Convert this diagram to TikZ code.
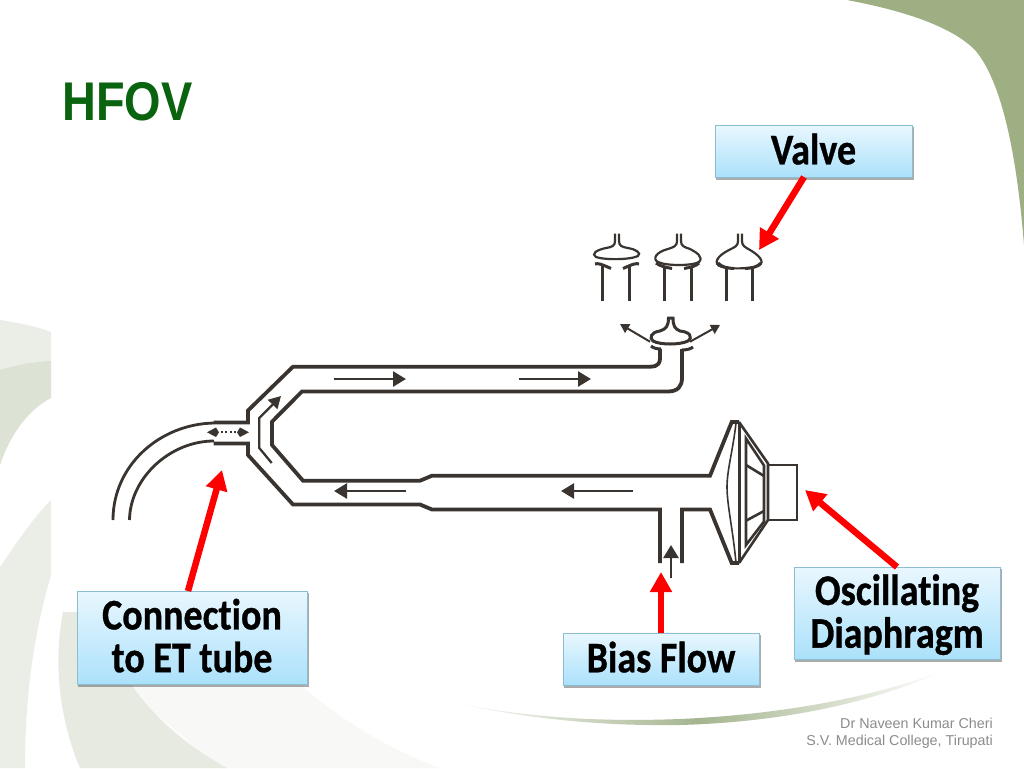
\documentclass[tikz,border=0pt]{standalone}
\usepackage{fontspec}
\usepackage{graphicx}
\newfontfamily\labelfont[BoldFeatures={FakeBold=0.8,RawFeature={-liga}},RawFeature={-liga}]{Carlito}
\newfontfamily\footfont{Liberation Sans}
\setmainfont{Liberation Sans}
\usetikzlibrary{arrows.meta}
\definecolor{pipe}{HTML}{3A3430}
\definecolor{bgdark}{HTML}{9EAF83}
\definecolor{bglight}{HTML}{EBEEE6}
\definecolor{bgmid}{HTML}{DCE3D5}
\definecolor{bgpale}{HTML}{E6EAE1}
\definecolor{bgfaint}{HTML}{F8F9F7}
\definecolor{swoosh}{HTML}{A5B58F}
\definecolor{titlegreen}{HTML}{0A640F}
\definecolor{labelbot}{HTML}{ABE1FB}
\definecolor{labeltop}{HTML}{E9F7FE}
\definecolor{labelline}{HTML}{8DBDD0}
\tikzset{
 wall/.style={draw=pipe,line width=3.8pt,line join=miter},
 thin wall/.style={draw=pipe,line width=3pt},
 fine wall/.style={draw=pipe,line width=2.2pt},
 tube wall/.style={draw=pipe,line width=2.8pt},
 flow/.style={draw=pipe,line width=2.6pt,-{Triangle[length=13pt,width=15pt]}},
 small flow/.style={draw=pipe,line width=2pt,-{Triangle[length=9pt,width=10pt]}},
 pointer/.style={draw=red,line width=6.5pt,-{Triangle[length=20pt,width=21pt]}},
}
\newcommand{\labelbx}[6]{% name, x0, y0, x1, y1, text
 \fill[black!60,opacity=.55] (#2+1,#3+2) rectangle (#4+1.5,#5+2.5);
 \draw[draw=labelline,line width=1pt,top color=labeltop,bottom color=labelbot] (#2,#3) rectangle (#4,#5);
 \node[align=center,inner sep=0pt] (#1) at ({(#2+#4)/2},{(#3+#5)/2+4}) {\scalebox{1}[1.15]{\labelfont\bfseries\fontsize{38}{35}\selectfont\begin{tabular}{@{}c@{}}#6\end{tabular}}};
}
\begin{document}
\begin{tikzpicture}[x=1pt,y=-1pt]
\useasboundingbox (0,0) rectangle (1024,768);
\fill[white] (0,0) rectangle (1024,768);
% background
\fill[bgdark] (847,0) .. controls (900,10) and (950,25) .. (975,50) .. controls (1005,85) and (1018,170) .. (1024,245) -- (1024,0) -- cycle;
\fill[bglight] (0,320) .. controls (20,323) and (38,327) .. (51,332) -- (51,362) .. controls (30,362) and (12,366) .. (0,370) -- cycle;
\fill[bgmid] (0,370) .. controls (12,366) and (30,362) .. (51,361) -- (51,398) .. controls (28,410) and (10,435) .. (0,465) -- cycle;
\fill[bglight] (0,567) .. controls (15,545) and (33,518) .. (51,500) -- (51,575) .. controls (38,620) and (25,680) .. (25,768) -- (0,768) -- cycle;
\fill[bgfaint] (120,684) -- (300,684) .. controls (340,720) and (390,750) .. (440,768) -- (220,768) -- cycle;
\fill[bgpale] (63,612) -- (110,612) -- (133,687) .. controls (160,725) and (195,750) .. (227,768) -- (80,768) .. controls (62,725) and (52,670) .. (63,612) -- cycle;
\shade[left color=white,right color=white,middle color=swoosh] (450,702) .. controls (540,722) and (620,726) .. (680,725) .. controls (790,722) and (880,700) .. (945,670) .. controls (880,695) and (790,714) .. (680,719) .. controls (600,722) and (530,718) .. (450,702) -- cycle;
% title
\node[text=titlegreen,anchor=base west,inner sep=0pt] (title) at (62,120) {\scalebox{.86}[1]{\bfseries\fontsize{54.5}{54.5}\selectfont HFOV}};
% ET tube
\draw[tube wall] (113,520) .. controls (113,465) and (160,424) .. (214,423);
\draw[tube wall] (129.5,520) .. controls (130,478) and (170,441) .. (214,441);
% manifold
\draw[wall] (213.5,422.5) -- (248,422.5) -- (248,410.5) -- (293,366.7) -- (650,366.7) .. controls (659,366.7) and (660,362) .. (660,358) -- (660,349);
\draw[wall] (213.5,443.5) -- (248,443.5) -- (248,455) -- (293,504.5) -- (420,504.5) -- (432,509.5) -- (660,509.5) -- (660,563);
\draw[wall] (682,563) -- (682,509.5) -- (710,509.5) -- (731.7,563) -- (739,563);
\draw[wall] (682,349) -- (682,378) .. controls (682,386) and (678,391.5) .. (668,391.5) -- (302,391.5) -- (272,421.7) -- (272,445) -- (303,480.7) -- (420,480.7) -- (432,475.7) -- (710,475.7) -- (731.7,422) -- (739,422);
% flanges
\draw[thin wall] (651,346) .. controls (653,348) and (657,349) .. (661,349);
\draw[thin wall] (693,347) .. controls (691,349) and (686,350) .. (682,350);
% small valve
\draw[wall,line width=3pt,fill=white] (668.5,318) .. controls (668.5,326) and (666,329) .. (660,331) .. controls (651,332) and (649,338) .. (653,341) .. controls (660,345) and (680,345) .. (688,341) .. controls (693,337) and (690,332) .. (680,331) .. controls (675,329) and (673,326) .. (673,318) -- cycle;
\draw[small flow] (650,341.7) -- (620,324);
\draw[small flow] (690,341.7) -- (720,325);
% valve 1
\draw[fine wall] (615,233.5) -- (615,241) .. controls (615,246) and (612,247) .. (606,248) .. controls (596,250) and (591,254) .. (596,257) .. controls (604,260) and (630,260) .. (638,256) .. controls (642,253) and (635,249) .. (628,248) .. controls (622,247) and (619,246) .. (619,241) -- (619,233.5);
\draw[thin wall] (595,264) .. controls (598,263) and (601,264) .. (611,268.5);
\draw[thin wall] (639,264) .. controls (636,263) and (633,264) .. (623,268.5);
\draw[thin wall] (602.7,266) -- (602.7,300.7);
\draw[thin wall] (629.5,266) -- (629.5,300.7);
% valve 2
\draw[fine wall] (677,233.5) -- (677,241) .. controls (677,246) and (674,247) .. (668,249) .. controls (656,252) and (652,259) .. (658,262) .. controls (666,266) and (692,266) .. (699,262) .. controls (704,257) and (696,252) .. (690,249) .. controls (684,247) and (681,246) .. (681,241) -- (681,233.5);
\draw[thin wall] (656,263) .. controls (660,266) and (664,267) .. (672,268.5);
\draw[thin wall] (699,263) .. controls (696,266) and (692,267) .. (684,268.5);
\draw[thin wall] (664.5,266) -- (664.5,300.7);
\draw[thin wall] (691.2,266) -- (691.2,300.7);
% valve 3
\draw[fine wall] (738,233.5) -- (738,241) .. controls (738,246) and (735,247) .. (729,250) .. controls (717,256) and (712,264) .. (722,267) .. controls (730,269) and (750,269) .. (758,266) .. controls (767,262) and (757,254) .. (750,250) .. controls (745,247) and (742,246) .. (742,241) -- (742,233.5);
\draw[thin wall] (718,263) .. controls (722,267) and (726,268) .. (734,268.5);
\draw[thin wall] (761,263) .. controls (757,267) and (753,268) .. (745,268.5);
\draw[thin wall] (726,268) -- (726,300.7);
\draw[thin wall] (752.7,268) -- (752.7,300.7);
% diaphragm
\draw[thin wall,line width=2.6pt] (739.3,422) -- (739.3,563);
\draw[fine wall,line width=1.6pt] (736,423) .. controls (733,450) and (727,470) .. (727,487) .. controls (727,505) and (733,530) .. (736,563);
\draw[thin wall,line width=2.6pt] (739,422) -- (768,463.5) -- (768,520) -- (739,563);
\draw[thin wall,line width=2.6pt] (746,438.5) -- (764,465.5) -- (764,521.5) -- (746,545) -- cycle;
\draw[thin wall,line width=2.6pt] (746,465) -- (764,476);
\draw[thin wall,line width=2.6pt] (746,520.7) -- (764,511);
\draw[draw=pipe,line width=2pt] (768,465) -- (796.7,465) -- (796.7,520) -- (768,520);
% inner flow arrow
\draw[thin wall,line width=2.3pt,-{Triangle[length=12pt,width=13pt]}] (271.7,463) -- (259.3,448) -- (259.3,418) -- (281,396);
% exchange arrow
\draw[pipe,line width=2pt,dash pattern=on 2pt off 2.5pt] (216,432.3) -- (241,432.3);
\fill[pipe] (207,432.3) -- (216,427.5) -- (219,432.3) -- (216,437) -- cycle;
\fill[pipe] (249,432.3) -- (240,427.5) -- (237,432.3) -- (240,437) -- cycle;
% flows
\draw[flow] (334,379) -- (406,379);
\draw[flow] (519,379) -- (591,379);
\draw[flow] (406,491) -- (334,491);
\draw[flow] (633,491) -- (561,491);
\draw[flow] (671,578) -- (671,545);
% label boxes
\labelbx{valve}{715}{125}{912}{177}{Valve}
\labelbx{conn}{77}{591}{307}{684}{Connection\\to ET tube}
\labelbx{bias}{563}{633}{759}{685}{Bias Flow}
\labelbx{osc}{794}{567}{1000}{659}{Oscillating\\Diaphragm}
% pointers
\coordinate (pv) at (759,250);
\coordinate (pc) at (222,470);
\coordinate (pb) at (661,572);
\coordinate (po) at (805,490);
\draw[pointer] (804,177) -- (pv);
\draw[pointer] (188,591) -- (pc);
\draw[pointer] (661,633) -- (pb);
\draw[pointer] (897,567) -- (po);
% footer
\node[font=\footfont\fontsize{14.3}{17}\selectfont,text=black!45,align=right,anchor=north east,inner sep=0pt] (foot) at (993,718) {Dr Naveen Kumar Cheri\\S.V. Medical College, Tirupati};
\end{tikzpicture}
\end{document}
